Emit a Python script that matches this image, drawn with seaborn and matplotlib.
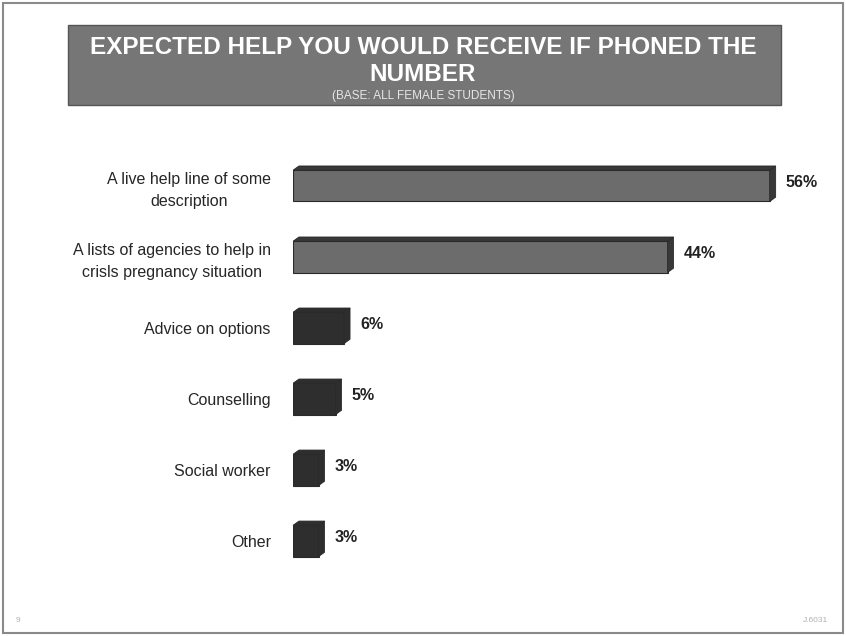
import matplotlib
matplotlib.use("Agg")
import matplotlib.pyplot as plt
from matplotlib.patches import Polygon, Rectangle
import seaborn as sns
import pandas as pd

sns.set_theme(style="white")
plt.rcParams["font.family"] = ["Liberation Sans", "DejaVu Sans"]

categories = [
    "A live help line of some\ndescription",
    "A lists of agencies to help in\ncrisls pregnancy situation",
    "Advice on options",
    "Counselling",
    "Social worker",
    "Other",
]
values = [56, 44, 6, 5, 3, 3]
value_labels = ["56%", "44%", "6%", "5%", "3%", "3%"]
bar_colors = ["#6c6c6c", "#6c6c6c", "#2e2e2e", "#2e2e2e", "#2e2e2e", "#2e2e2e"]
side_colors = ["#383838", "#383838", "#2e2e2e", "#2e2e2e", "#2e2e2e", "#2e2e2e"]

title_line = "EXPECTED HELP YOU WOULD RECEIVE IF PHONED THE\nNUMBER"
subtitle = "(BASE: ALL FEMALE STUDENTS)"

df = pd.DataFrame({"category": categories, "value": values})

fig = plt.figure(figsize=(8.46, 6.36), dpi=100)
fig.patch.set_facecolor("white")

# outer frame
fig.add_artist(Rectangle((0.003, 0.004), 0.994, 0.992, transform=fig.transFigure,
                         fill=False, edgecolor="#8a8a8a", linewidth=1.5))
# title band
fig.add_artist(Rectangle((68 / 846, 1 - 105 / 636), (781 - 68) / 846, 80 / 636,
                         transform=fig.transFigure, facecolor="#767676",
                         edgecolor="#555555", linewidth=1.0))
fig.text(0.5, 1 - 61 / 636, title_line, ha="center", va="center", color="white",
         fontsize=17.5, fontweight="bold", linespacing=1.2)
fig.text(0.5, 1 - 96 / 636, subtitle, ha="center", va="center", color="#e6e6e6",
         fontsize=8.5)

ax = fig.add_axes([293 / 846, 0.0936, 0.6037, 0.670])
sns.barplot(data=df, y="category", x="value", orient="h", ax=ax,
            palette=bar_colors, hue="category", legend=False,
            width=0.44, edgecolor="#2a2a2a", linewidth=0.8, saturation=1)

ax.set_xlim(0, 60)
ax.set_ylim(5.5, -0.5)
ax.set_xlabel("")
ax.set_ylabel("")
ax.set_xticks([])
ax.tick_params(axis="y", length=0, pad=16, labelsize=11.5)
for lab in ax.get_yticklabels():
    lab.set_horizontalalignment("right")
    lab.set_multialignment("center")
    lab.set_linespacing(1.55)
for s in ax.spines.values():
    s.set_visible(False)

# 3D faces on each bar
dx, dy = 0.7, 0.06
for i, (v, bar) in enumerate(zip(values, ax.patches)):
    y0 = bar.get_y()
    h = bar.get_height()
    top, bot = y0, y0 + h
    side = Polygon([(v, top), (v + dx, top - dy), (v + dx, bot - dy), (v, bot)],
                   closed=True, facecolor=side_colors[i], edgecolor="#2a2a2a",
                   linewidth=0.6)
    topf = Polygon([(0, top), (dx, top - dy), (v + dx, top - dy), (v, top)],
                   closed=True, facecolor=side_colors[i], edgecolor="#2a2a2a",
                   linewidth=0.6)
    ax.add_patch(side)
    ax.add_patch(topf)
    ax.text(v + dx + 1.2, i - 0.05, value_labels[i], ha="left", va="center",
            fontsize=11.5, fontweight="bold", color="#222222")

# page footer marks
fig.text(16 / 846, 1 - 620 / 636, "9", fontsize=6, color="#b0b0b0", va="center")
fig.text(828 / 846, 1 - 620 / 636, "J.6031", fontsize=6, color="#b0b0b0",
         va="center", ha="right")

fig.savefig("out.png", dpi=100)
